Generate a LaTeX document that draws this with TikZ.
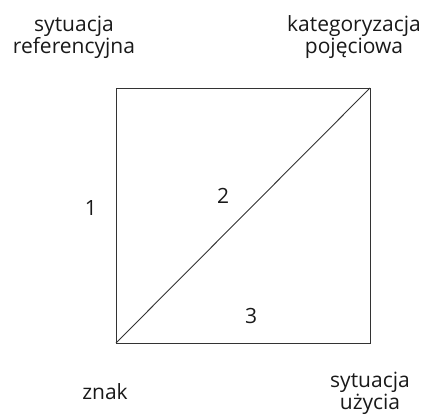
\documentclass[tikz,border=0pt]{standalone}
\usepackage{fontspec}
\setmainfont{Open Sans}
\begin{document}
\begin{tikzpicture}[x=1pt,y=-1pt,
  lbl/.style={inner sep=0pt,anchor=base,align=center,font=\fontsize{21}{21.5}\selectfont,text=black!90},
  num/.style={inner sep=0pt,anchor=center,font=\fontsize{21}{21.5}\selectfont,text=black!90},
  edge/.style={draw=black!80,line width=0.9pt}]
\useasboundingbox (0,0) rectangle (430,415);
\coordinate (tl) at (116,88);
\coordinate (tr) at (370,88);
\coordinate (bl) at (116,343);
\coordinate (br) at (370,343);
\draw[edge] (tl) -- (tr) -- (br) -- (bl) -- cycle;
\draw[edge] (bl) -- (tr);
\node[lbl] (ref) at (74,53) {sytuacja\\referencyjna};
\node[lbl] (kat) at (354,53) {kategoryzacja\\pojęciowa};
\node[lbl] (znak) at (105,399) {znak};
\node[lbl] (uzy) at (370,409) {sytuacja\\użycia};
\node[num] (n1) at (91,208) {1};
\node[num] (n2) at (223,196) {2};
\node[num] (n3) at (251,316) {3};
\end{tikzpicture}
\end{document}
